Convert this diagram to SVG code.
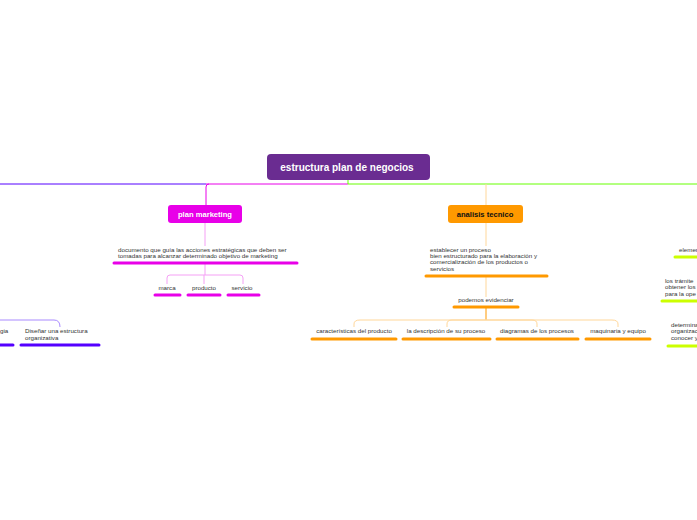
<svg xmlns="http://www.w3.org/2000/svg" width="697" height="520" viewBox="0 0 697 520">
<style>
text{font-family:"Liberation Sans",Arial,sans-serif;font-size:6.2px;fill:#333}
.t{font-weight:bold}
.u{stroke-width:3;stroke-linecap:round;fill:none}
.c{fill:none;stroke-width:1}
</style>
<rect width="697" height="520" fill="#fff"/>
<g id="connectors">
<path class="c" d="M0 184H206" stroke="#5500ff"/>
<path class="c" d="M206 184H348" stroke="#e800e8"/>
<path class="c" d="M348 180V184H697" stroke="#66ff00"/>
<path class="c" d="M206 205V187Q206 184 209 184" stroke="#e800e8"/>
<path class="c" d="M205 223V246" stroke="#f5a0f5"/>
<path class="c" d="M205 264V275M167 284V278Q167 275 170 275H240Q243 275 243 278V284M204 275V284" stroke="#f5a0f5"/>
<path class="c" d="M486 184V205M486 223V246M486 277V297" stroke="#ffd79a"/>
<path class="c" d="M486 308V320" stroke="#f90"/>
<path class="c" d="M354 327V324Q354 320 360 320H612Q618 320 618 324V327M447 327V324Q447 320 452 320H532Q537 320 537 324V327" stroke="#ffd79a"/>
<path class="c" d="M0 320H54Q60 320 60 327" stroke="#a98aff"/>
</g>
<g id="root"><rect x="267" y="154" width="163" height="26" rx="4" fill="#6a2c91"/><text class="t" x="347" y="171" text-anchor="middle" style="font-size:10px;fill:#fff">estructura plan de negocios</text></g>
<g id="plan-marketing"><rect x="168" y="205" width="74" height="18" rx="3" fill="#e800e8"/><text class="t" x="205" y="217" text-anchor="middle" style="fill:#fff;font-size:7.6px">plan marketing</text></g>
<g id="documento"><text x="118" y="252">documento que guía las acciones estratégicas que deben ser</text><text x="118" y="258">tomadas para alcanzar determinado objetivo de marketing</text><path class="u" d="M114 263H297" stroke="#e800e8"/></g>
<g id="marca"><text x="167" y="290" text-anchor="middle">marca</text><path class="u" d="M155 295H180" stroke="#e800e8"/></g>
<g id="producto"><text x="204" y="290" text-anchor="middle">producto</text><path class="u" d="M188 295H220" stroke="#e800e8"/></g>
<g id="servicio"><text x="242" y="290" text-anchor="middle">servicio</text><path class="u" d="M228 295H259" stroke="#e800e8"/></g>
<g id="analisis"><rect x="448" y="205" width="75" height="18" rx="3" fill="#f90"/><text class="t" x="485" y="217" text-anchor="middle" style="fill:#111;font-size:7.6px">analisis tecnico</text></g>
<g id="establecer"><text x="430" y="252">establecer un proceso</text><text x="430" y="258"> bien estructurado para la elaboración y</text><text x="430" y="264">comercialización de los productos o</text><text x="430" y="271">servicios</text><path class="u" d="M426 276H547" stroke="#f90"/></g>
<g id="podemos"><text x="486" y="302" text-anchor="middle">podemos evidenciar</text><path class="u" d="M454 307H518" stroke="#f90"/></g>
<g id="caract"><text x="354" y="333" text-anchor="middle">características del producto</text><path class="u" d="M312 339H396" stroke="#f90"/></g>
<g id="descripcion"><text x="446" y="333" text-anchor="middle">la descripción de su proceso</text><path class="u" d="M403 339H490" stroke="#f90"/></g>
<g id="diagramas"><text x="537" y="333" text-anchor="middle">diagramas de los procesos</text><path class="u" d="M497 339H578" stroke="#f90"/></g>
<g id="maquinaria"><text x="618" y="333" text-anchor="middle">maquinaria y equipo</text><path class="u" d="M586 339H650" stroke="#f90"/></g>
<g id="gia"><text x="0" y="333">gia</text><path class="u" d="M-2 345H13" stroke="#5500ff"/></g>
<g id="disenar"><text x="25" y="333">Diseñar una estructura</text><text x="25" y="340">organizativa</text><path class="u" d="M21 345H99" stroke="#5500ff"/></g>
<g id="elemen"><text x="679" y="252">elemen</text><path class="u" d="M675 257H699" stroke="#ccff00"/></g>
<g id="tramites"><text x="665" y="283">los trámite</text><text x="665" y="289">obtener los</text><text x="665" y="296">para la ope</text><path class="u" d="M662 301H699" stroke="#ccff00"/></g>
<g id="determina"><text x="671" y="327">determina</text><text x="671" y="333">organizac</text><text x="671" y="340">conocer y</text><path class="u" d="M668 346H699" stroke="#ccff00"/></g>
</svg>
